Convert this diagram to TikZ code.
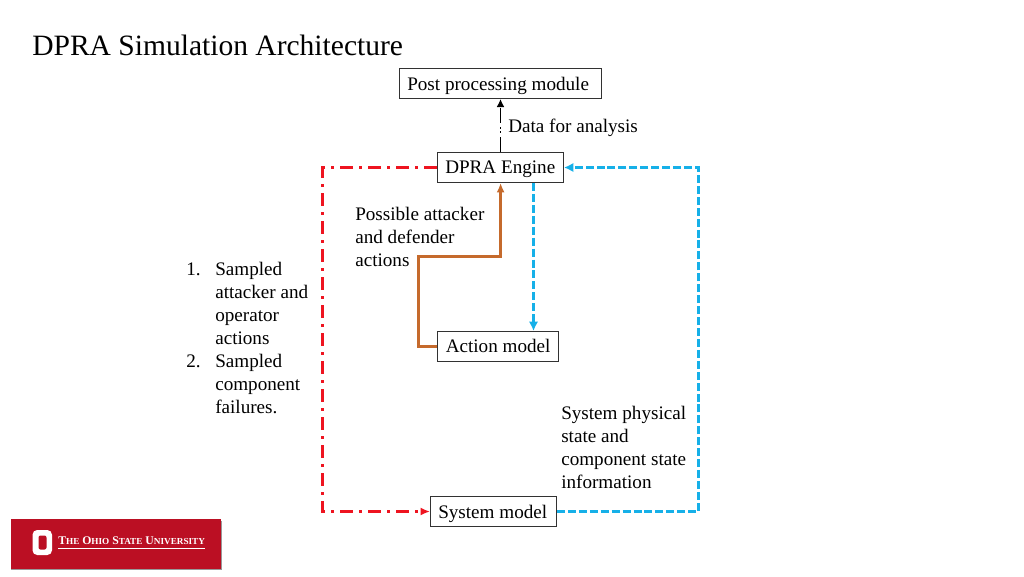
\documentclass[tikz,border=0pt]{standalone}
\usepackage{fontspec}
\setmainfont{Liberation Serif}
\usetikzlibrary{arrows.meta,positioning}
\definecolor{redline}{RGB}{238,20,32}
\definecolor{blueline}{RGB}{22,176,232}
\definecolor{brownline}{RGB}{197,106,44}
\definecolor{osured}{RGB}{187,15,35}
\definecolor{boxline}{RGB}{50,50,50}
\newcommand{\bodyfont}{\fontsize{14.35}{17.25}\selectfont}
\tikzset{
  modbox/.style={draw=boxline,line width=0.75pt,fill=white,inner sep=0pt,anchor=north west},
  lbl/.style={anchor=north west,inner sep=0pt,align=left,font=\bodyfont},
  boxtxt/.style={anchor=base west,inner sep=0pt,font=\bodyfont},
  redconn/.style={draw=redline,line width=2.1pt,dash pattern=on 10pt off 4.5pt on 2pt off 4.5pt,-{Latex[length=7pt,width=6pt]}},
  blueconn/.style={draw=blueline,line width=2.1pt,dash pattern=on 6pt off 2.2pt,-{Latex[length=7pt,width=7pt]}},
  brownconn/.style={draw=brownline,line width=2.2pt,-{Latex[length=7pt,width=6pt]}},
  blackconn/.style={draw=black,line width=1.2pt,dash pattern=on 11pt off 3.5pt on 1pt off 2pt on 1pt off 3.5pt,-{Latex[length=6pt,width=6pt]}},
}
\begin{document}
\begin{tikzpicture}[x=0.75pt,y=-0.75pt]
\useasboundingbox (0,0) rectangle (1024,576);
% title
\node[anchor=base west,inner sep=0pt,font=\fontsize{22.15}{26}\selectfont] (title) at (32,55.5) {DPRA Simulation Architecture};
% boxes
\node[modbox,minimum width=151.5pt,minimum height=22.5pt] (post) at (399,68) {};
\node[boxtxt] (posttxt) at (407,90) {Post processing module};
\node[modbox,minimum width=94.5pt,minimum height=22.5pt] (engine) at (437,152) {};
\node[boxtxt] (enginetxt) at (445,173.5) {DPRA Engine};
\node[modbox,minimum width=90.75pt,minimum height=22.5pt] (action) at (437,331) {};
\node[boxtxt] (actiontxt) at (445.5,352.5) {Action model};
\node[modbox,minimum width=94.5pt,minimum height=22.5pt] (system) at (430,496) {};
\node[boxtxt] (systemtxt) at (438,518) {System model};
% connectors
\coordinate (rtop) at (322.5,0 |- engine.west);
\coordinate (rbot) at (322.5,0 |- system.west);
\coordinate (btop) at (698.5,0 |- engine.east);
\coordinate (bbot) at (698.5,0 |- system.east);
\coordinate (bra) at (418.5,0 |- action.west);
\coordinate (brb) at (418.5,256.5);
\coordinate (brc) at (500.6,256.5);
\coordinate (bfrom) at (533.5,0 |- engine.south);
\coordinate (bto) at (533.5,0 |- action.north);
\coordinate (kfrom) at (500.5,0 |- engine.north);
\coordinate (kto) at (500.5,0 |- post.south);
\draw[blackconn] (kfrom) -- (kto);
\draw[redconn] (engine.west) -- (rtop) -- (rbot) -- (system.west);
\draw[blueconn] (system.east) -- (bbot) -- (btop) -- (engine.east);
\draw[blueconn] (bfrom) -- (bto);
\draw[brownconn] (action.west) -- (bra) -- (brb) -- (brc) -- (brc |- engine.south);
% labels
\node[boxtxt] (data) at (508,132) {Data for analysis};
\node[lbl] (possible) at (355,206.5) {Possible attacker\\and defender\\actions};
\node[lbl] (steps) at (186,259) {\begin{tabular}{@{}p{21.75pt}@{}l@{}}
1.&Sampled\\
&attacker and\\
&operator\\
&actions\\
2.&Sampled\\
&component\\
&failures.
\end{tabular}};
\node[lbl] (state) at (561,405.5) {System physical\\state and\\component state\\information};
% logo
\fill[black!40] (11,521) rectangle (222,570);
\fill[osured] (11,519) rectangle (221,569);
\fill[white,rounded corners=3.5pt] (32.5,530) rectangle (52,555);
\fill[osured,rounded corners=1.5pt] (38.5,535.5) rectangle (46.5,549.5);
\node[anchor=base west,inner sep=0pt,text=white,font=\fontsize{8.8}{10}\bfseries\selectfont] (osu) at (58,544.5) {T{\fontsize{6.9}{8}\selectfont HE} O{\fontsize{6.9}{8}\selectfont HIO} S{\fontsize{6.9}{8}\selectfont TATE} U{\fontsize{6.9}{8}\selectfont NIVERSITY}};
\draw[white,line width=0.5pt] (58,548.5) -- (205,548.5);
\end{tikzpicture}
\end{document}
